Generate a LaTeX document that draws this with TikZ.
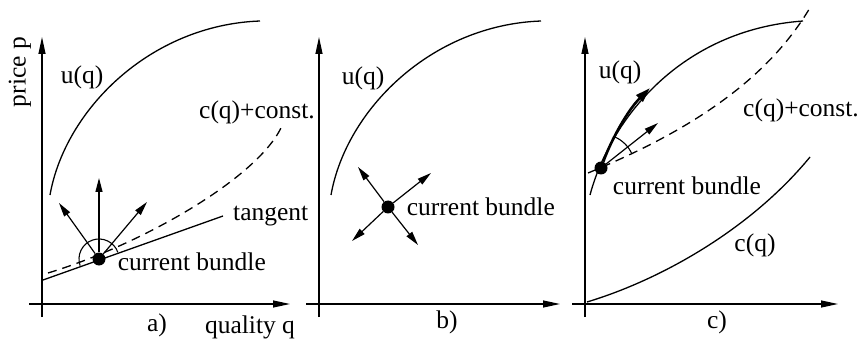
\documentclass[tikz,border=0pt]{standalone}
\usepackage{fontspec}
\setmainfont{Liberation Serif}
\usepackage{tikz}
\usetikzlibrary{arrows.meta,positioning}

\begin{document}
\begin{tikzpicture}[
  x=1pt, y=-1pt,
  axis/.style={line width=1.2pt, -{Triangle[length=17pt,width=7pt]}},
  curve/.style={line width=1.3pt},
  costcurve/.style={curve, dash pattern=on 9pt off 6pt},
  move/.style={line width=1.2pt, -{Triangle[length=14pt,width=7pt]}},
  bigmove/.style={line width=2.6pt, -{Triangle[length=15pt,width=9pt]}},
  bundle/.style={circle, fill, inner sep=0pt, minimum size=13pt},
  lbl/.style={font=\fontsize{25.5}{30}\selectfont, inner sep=0pt},
]
\useasboundingbox (0,0) rectangle (858,347);

% axes of the three panels
\foreach \n/\x/\r in {a/42/290, b/319/560, c/585/838} {
  \coordinate (bot\n) at (\x,317);
  \coordinate (top\n) at (\x,37);
  \coordinate (left\n) at (\x-13,304);
  \coordinate (right\n) at (\r,304);
  \draw[axis] (bot\n) -- (top\n);
  \draw[axis] (left\n) -- (right\n);
}

%% panel a
\node[bundle] (dota) at (99,259) {};
\draw[curve] (50,195) .. controls (65,110) and (150,25) .. (260,21);
\draw[costcurve] (48,273) .. controls (140,245) and (255,180) .. (281,128);
\coordinate (tanl) at (43,280);
\coordinate (tanr) at (223,216);
\draw[curve] (tanl) -- (tanr);
\draw[line width=1.1pt] (dota.center) ++(-19.6:20)
  arc[start angle=-19.6, end angle=-199.6, radius=20];
\coordinate (mva1) at (59,203);
\coordinate (mva2) at (99,178);
\coordinate (mva3) at (147,202);
\foreach \t in {mva1,mva2,mva3}
  \draw[move] (dota) -- (\t);

\node[lbl, rotate=90] (price) at (20,72) {price p};
\node[lbl] (ua) at (82,77) {u(q)};
\node[lbl] (costa) at (257,112) {c(q)+const.};
\node[lbl, right=10pt of tanr] (tanlbl) {tangent};
\node[lbl, right=12pt of dota, yshift=-3pt] (cba) {current bundle};
\node[lbl] (capa) at (157,325) {a)};
\node[lbl] (quality) at (250,327) {quality q};

%% panel b
\node[bundle] (dotb) at (388,207) {};
\draw[curve] (331,195) .. controls (346,110) and (431,25) .. (541,21);
\coordinate (mvb1) at (358,167);
\coordinate (mvb2) at (431,173);
\coordinate (mvb3) at (352,241);
\coordinate (mvb4) at (418,245);
\foreach \t in {mvb1,mvb2,mvb3,mvb4}
  \draw[move] (dotb) -- (\t);

\node[lbl] (ub) at (363,78) {u(q)};
\node[lbl, right=12pt of dotb] (cbb) {current bundle};
\node[lbl] (capb) at (447,322) {b)};

%% panel c
\node[bundle] (dotc) at (601,168) {};
\draw[curve] (590,195) .. controls (610,120) and (680,30) .. (803,21);
\draw[costcurve] (588,173) .. controls (680,135) and (765,85) .. (811,6);
\draw[curve] (587,302) .. controls (660,280) and (750,230) .. (810,157);
\coordinate (mvc1) at (650,88);
\coordinate (mvc2) at (658,123);
\draw[bigmove] (dotc) .. controls (612,138) and (628,110) .. (mvc1);
\draw[move] (dotc) -- (mvc2);
\draw[line width=1.1pt] (dotc.center) ++(-24:34)
  arc[start angle=-24, end angle=-67, radius=34];

\node[lbl] (uc) at (620,72) {u(q)};
\node[lbl] (costc) at (801,110) {c(q)+const.};
\node[lbl, below right=4pt and 7pt of dotc] (cbc) {current bundle};
\node[lbl] (cc) at (755,245) {c(q)};
\node[lbl] (capc) at (717,322) {c)};

\end{tikzpicture}
\end{document}
